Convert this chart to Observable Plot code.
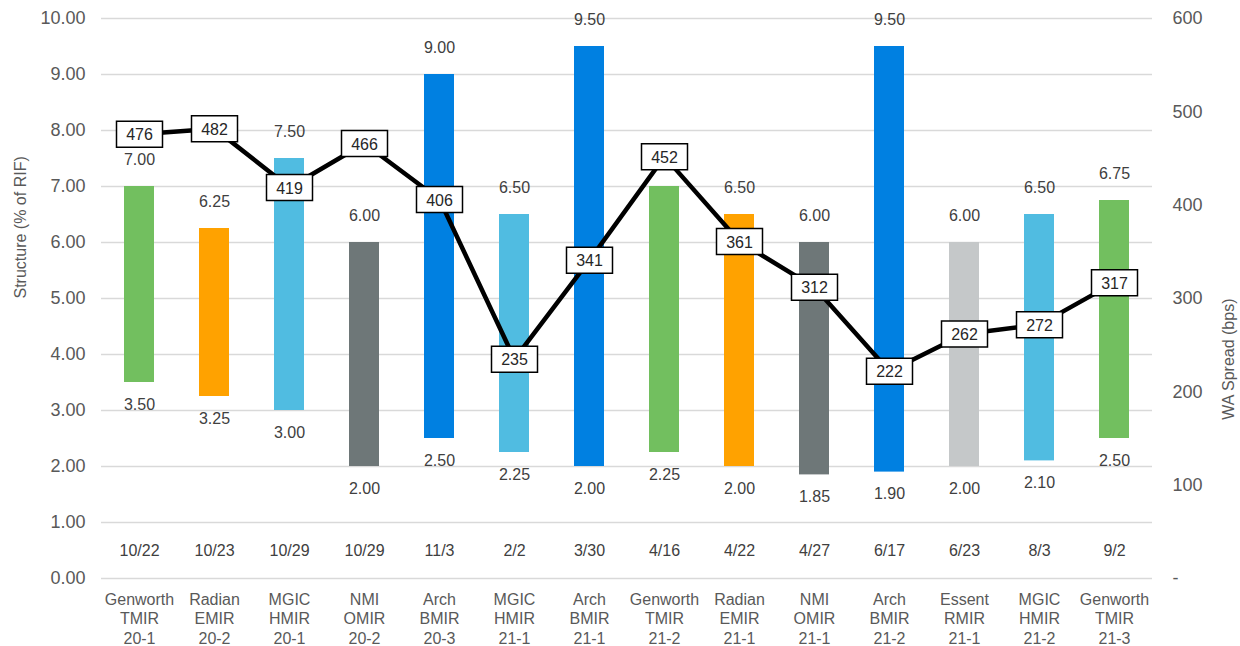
<!DOCTYPE html>
<html>
<head>
<meta charset="utf-8">
<script src="https://cdn.jsdelivr.net/npm/d3@7"></script>
<script src="https://cdn.jsdelivr.net/npm/@observablehq/plot@0.6"></script>
<style>
  html, body { margin: 0; padding: 0; background: #fff; }
  #chart { width: 1240px; height: 646px; }
</style>
</head>
<body>
<div id="chart"></div>
<script>
const deals = ["Genworth\nTMIR\n20-1", "Radian\nEMIR\n20-2", "MGIC\nHMIR\n20-1", "NMI\nOMIR\n20-2", "Arch\nBMIR\n20-3", "MGIC\nHMIR\n21-1", "Arch\nBMIR\n21-1", "Genworth\nTMIR\n21-2", "Radian\nEMIR\n21-1", "NMI\nOMIR\n21-1", "Arch\nBMIR\n21-2", "Essent\nRMIR\n21-1", "MGIC\nHMIR\n21-2", "Genworth\nTMIR\n21-3"];
const issuers = ["Genworth", "Radian", "MGIC", "NMI", "Arch", "MGIC", "Arch", "Genworth", "Radian", "NMI", "Arch", "Essent", "MGIC", "Genworth"];
const dates = ["10/22", "10/23", "10/29", "10/29", "11/3", "2/2", "3/30", "4/16", "4/22", "4/27", "6/17", "6/23", "8/3", "9/2"];
const highs = [7.00, 6.25, 7.50, 6.00, 9.00, 6.50, 9.50, 7.00, 6.50, 6.00, 9.50, 6.00, 6.50, 6.75];
const lows = [3.50, 3.25, 3.00, 2.00, 2.50, 2.25, 2.00, 2.25, 2.00, 1.85, 1.90, 2.00, 2.10, 2.50];
const spreads = [476, 482, 419, 466, 406, 235, 341, 452, 361, 312, 222, 262, 272, 317];
const issuerNames = ["Genworth", "Radian", "MGIC", "NMI", "Arch", "Essent"];
const issuerColors = ["#72BF5F", "#FFA200", "#50BCE1", "#6E7778", "#0080E1", "#C5C8C9"];
const leftTicks = [0, 1, 2, 3, 4, 5, 6, 7, 8, 9, 10];
const rightTicks = [0, 100, 200, 300, 400, 500, 600];
const spreadMax = 600, leftMax = 10;

const toLeft = v => v * leftMax / spreadMax;
const data = deals.map((d, i) => ({
  deal: d, issuer: issuers[i], date: dates[i], high: highs[i], low: lows[i],
  spread: spreads[i], spreadY: toLeft(spreads[i])
}));

const boxSymbol = { draw(ctx) { ctx.moveTo(-23, -13); ctx.lineTo(23, -13); ctx.lineTo(23, 13); ctx.lineTo(-23, 13); ctx.closePath(); } };

const font = "Liberation Sans, Arial, sans-serif";
const chart = Plot.plot({
  width: 1240,
  height: 646,
  marginLeft: 101,
  marginRight: 88,
  marginTop: 18,
  marginBottom: 68,
  style: { fontFamily: font, background: "#fff" },
  x: { domain: deals, type: "band", paddingInner: 0.6, paddingOuter: 0.3, axis: null },
  y: { domain: [0, leftMax], axis: null },
  color: { domain: issuerNames, range: issuerColors },
  marks: [
    Plot.gridY(leftTicks, { stroke: "#d9d9d9", strokeOpacity: 1, strokeWidth: 1.5 }),
    Plot.axisY(leftTicks, { anchor: "left", tickSize: 0, tickPadding: 16, tickFormat: d => d.toFixed(2), fontSize: 18, fill: "#595959", label: null }),
    Plot.axisY(rightTicks.map(toLeft), { anchor: "right", tickSize: 0, tickPadding: 20, tickFormat: d => { const v = Math.round(d * spreadMax / leftMax); return v === 0 ? "-" : String(v); }, fontSize: 18, fill: "#595959", label: null, textAnchor: "start" }),
    Plot.text(["Structure (% of RIF)"], { frameAnchor: "left", dx: -81, rotate: -90, fontSize: 16, fill: "#595959" }),
    Plot.text(["WA Spread (bps)"], { frameAnchor: "right", dx: 76, rotate: -90, fontSize: 16, fill: "#595959" }),
    Plot.barY(data, { x: "deal", y1: "low", y2: "high", fill: "issuer" }),
    Plot.text(data, { x: "deal", y: "high", text: d => d.high.toFixed(2), dy: -27, fontSize: 16, fill: "#404040" }),
    Plot.text(data, { x: "deal", y: "low", text: d => d.low.toFixed(2), dy: 22, fontSize: 16, fill: "#404040" }),
    Plot.text(data, { x: "deal", y: () => 0.5, text: "date", fontSize: 16, fill: "#404040" }),
    Plot.text(data, { x: "deal", y: () => 0, text: "deal", lineAnchor: "top", dy: 13, lineHeight: 1.2, fontSize: 16, fill: "#595959" }),
    Plot.line(data, { x: "deal", y: "spreadY", stroke: "#000", strokeWidth: 4.5, strokeLinejoin: "miter" }),
    Plot.dot(data, { x: "deal", y: "spreadY", symbol: boxSymbol, r: 10, fill: "#fff", stroke: "#000", strokeWidth: 1.5 }),
    Plot.text(data, { x: "deal", y: "spreadY", text: d => String(d.spread), fontSize: 16, fill: "#262626", dy: 1 })
  ]
});
document.getElementById("chart").appendChild(chart);
</script>
</body>
</html>
